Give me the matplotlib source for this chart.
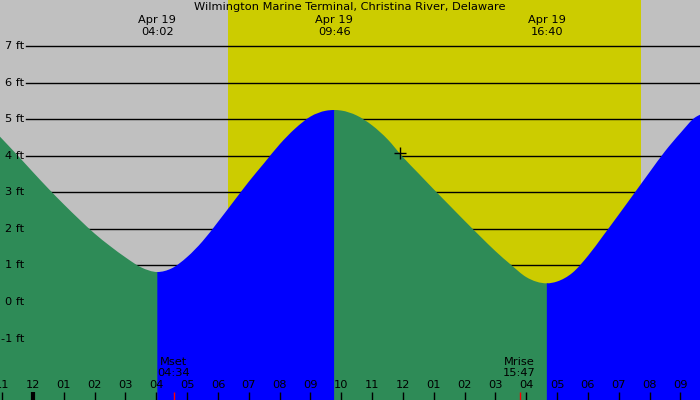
import numpy as np
import matplotlib
matplotlib.use("Agg")
import matplotlib.pyplot as plt
from matplotlib.path import Path
from matplotlib.patches import PathPatch
from matplotlib.transforms import blended_transform_factory

# ---------------- data ----------------
title = "Wilmington Marine Terminal, Christina River, Delaware"

# hours since midnight Apr 19, tide height in ft
tide_hours = [-1.07, -0.5, 0.0, 0.5, 1.0, 1.5, 2.0, 2.5, 3.0, 3.5, 4.033,
              4.5, 5.0, 5.5, 6.0, 6.5, 7.0, 7.5, 8.0, 8.5, 9.0, 9.5, 9.767,
              10.0, 10.5, 11.0, 11.5, 12.0, 12.5, 13.0, 13.5, 14.0, 14.5, 15.0, 15.5,
              16.0, 16.667,
              17.0, 17.5, 18.0, 18.5, 19.0, 19.5, 20.0, 20.5, 21.0, 21.5, 21.635]
tide_heights = [4.52, 4.01, 3.55, 3.10, 2.67, 2.26, 1.87, 1.53, 1.22, 0.95, 0.82,
                0.92, 1.23, 1.66, 2.19, 2.74, 3.29, 3.80, 4.31, 4.74, 5.07, 5.23, 5.25,
                5.235, 5.10, 4.83, 4.45, 3.96, 3.52, 3.08, 2.65, 2.22, 1.80, 1.39, 1.02,
                0.68, 0.51,
                0.56, 0.80, 1.26, 1.82, 2.39, 2.97, 3.55, 4.12, 4.62, 5.06, 5.12]

event_hours = [4.033, 9.767, 16.667]          # low, high, low
event_dates = ["Apr 19", "Apr 19", "Apr 19"]
event_labels = ["04:02", "09:46", "16:40"]

sunrise_hour = 6.325
sunset_hour = 19.72

moon_hours = [4.567, 15.783]
moon_names = ["Mset", "Mrise"]
moon_labels = ["04:34", "15:47"]

now_hour = 11.9
now_height = 4.07

hour_ticks = list(range(-1, 22))
hour_tick_labels = ["11", "12", "01", "02", "03", "04", "05", "06", "07", "08", "09", "10",
                    "11", "12", "01", "02", "03", "04", "05", "06", "07", "08", "09"]

level_ticks = [-1, 0, 1, 2, 3, 4, 5, 6, 7]
level_labels = ["-1 ft", "0 ft", "1 ft", "2 ft", "3 ft", "4 ft", "5 ft", "6 ft", "7 ft"]

# ---------------- style ----------------
GRAY = "#C0C0C0"
YELLOW = "#CCCC00"
GREEN = "#2E8B57"
BLUE = "#0000FF"
FONT = "DejaVu Sans"
FS = 8.2
X0, X1 = -1.07, 21.635
Y0, Y1 = -2.68, 8.258

fig = plt.figure(figsize=(7, 4), dpi=100)
fig.patch.set_facecolor(GRAY)
ax = fig.add_axes([0, 0, 1, 1])
ax.set_facecolor(GRAY)
ax.set_axis_off()
ax.set_xlim(X0, X1)
ax.set_ylim(Y0, Y1)

# daylight
ax.axvspan(sunrise_hour, sunset_hour, color=YELLOW, zorder=0, lw=0)

# level lines
for lv in level_ticks:
    ax.axhline(lv, xmin=26 / 700, xmax=1, color="black", lw=1, zorder=1)


def smooth_fill_path(ts, hs, flat_start, flat_end, ext):
    """Cubic Hermite (as Bezier) path through the read points, closed to the bottom."""
    ts = np.asarray(ts, float)
    hs = np.asarray(hs, float)
    n = len(ts)
    dt = np.diff(ts)
    sl = np.diff(hs) / dt
    m = np.zeros(n)
    m[0] = sl[0]
    m[-1] = sl[-1]
    for i in range(1, n - 1):
        m[i] = (sl[i - 1] * dt[i] + sl[i] * dt[i - 1]) / (dt[i - 1] + dt[i])
    if flat_start:
        m[0] = 0.0
    if flat_end:
        m[-1] = 0.0
    verts = [(ts[0], Y0 - 1), (ts[0], hs[0])]
    codes = [Path.MOVETO, Path.LINETO]
    for i in range(n - 1):
        d = dt[i] / 3.0
        verts += [(ts[i] + d, hs[i] + m[i] * d),
                  (ts[i + 1] - d, hs[i + 1] - m[i + 1] * d),
                  (ts[i + 1], hs[i + 1])]
        codes += [Path.CURVE4] * 3
    verts += [(ts[-1] + ext, hs[-1]), (ts[-1] + ext, Y0 - 1), (ts[0], Y0 - 1)]
    codes += [Path.LINETO, Path.LINETO, Path.CLOSEPOLY]
    return Path(verts, codes)


# tide fill, alternating falling (green) / rising (blue)
t = np.array(tide_hours)
h = np.array(tide_heights)
bounds = [t[0]] + event_hours + [t[-1]]
colors = [GREEN, BLUE, GREEN, BLUE]
nseg = len(colors)
for k, c in enumerate(colors):
    a, b = bounds[k], bounds[k + 1]
    msk = (t >= a - 1e-9) & (t <= b + 1e-9)
    p = smooth_fill_path(t[msk], h[msk], flat_start=(k > 0), flat_end=(k < nseg - 1),
                         ext=0.04 if k < nseg - 1 else 0.0)
    ax.add_patch(PathPatch(p, facecolor=c, edgecolor="none", lw=0, zorder=2 + 0.01 * k))

# y labels
ytr = ax.get_yaxis_transform()
for lv, lab in zip(level_ticks, level_labels):
    ax.text(24 / 700, lv, lab, transform=ytr, ha="right", va="center",
            fontsize=FS, family=FONT, zorder=5)

# title and event labels
xtr = blended_transform_factory(ax.transData, ax.transAxes)
ax.text(0.5, 1 - 7 / 400, title, transform=ax.transAxes, ha="center", va="center",
        fontsize=FS, family=FONT, zorder=5)
for eh, d, lab in zip(event_hours, event_dates, event_labels):
    ax.text(eh, 1 - 20 / 400, d, transform=xtr, ha="center", va="center",
            fontsize=FS, family=FONT, zorder=5)
    ax.text(eh, 1 - 32 / 400, lab, transform=xtr, ha="center", va="center",
            fontsize=FS, family=FONT, zorder=5)

# hour ticks and labels
for hr, lab in zip(hour_ticks, hour_tick_labels):
    lw = 3 if hr == 0 else 1
    ax.plot([hr, hr], [0, 8 / 400], transform=xtr, color="black", lw=lw,
            solid_capstyle="butt", zorder=5)
    ax.text(hr, 15 / 400, lab, transform=xtr, ha="center", va="center",
            fontsize=FS, family=FONT, zorder=5)

# moon events
for mh, name, lab in zip(moon_hours, moon_names, moon_labels):
    ax.plot([mh, mh], [0, 8 / 400], transform=xtr, color="red", lw=1,
            solid_capstyle="butt", zorder=5)
    ax.text(mh, 38 / 400, name, transform=xtr, ha="center", va="center",
            fontsize=FS, family=FONT, zorder=5)
    ax.text(mh, 27 / 400, lab, transform=xtr, ha="center", va="center",
            fontsize=FS, family=FONT, zorder=5)

# current-time marker
ax.plot([now_hour], [now_height], marker="+", color="black", ms=9, mew=1, zorder=6)

fig.savefig("out.png", dpi=100, facecolor=GRAY)
